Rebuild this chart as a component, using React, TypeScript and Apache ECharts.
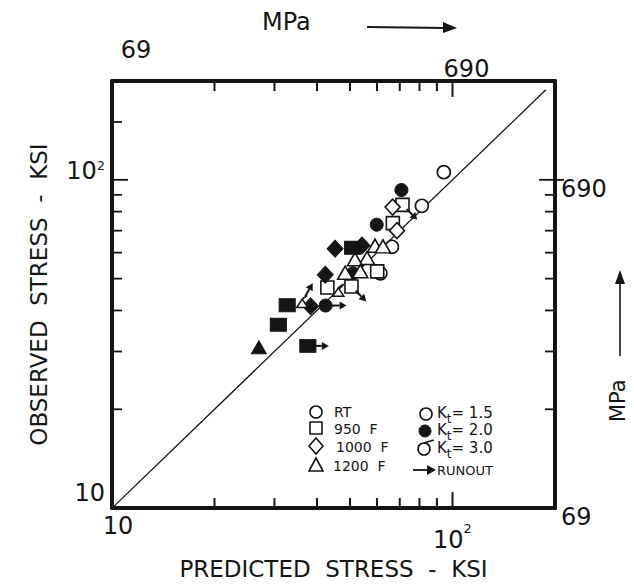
import React, { useEffect, useRef } from 'react';
import * as echarts from 'echarts';

// ---------- data ----------
const KSI_MIN = 10;
const KSI_MAX = 200;
const MPA_PER_KSI = 6.895;
const KSI_TICKS_X = [20, 30, 40, 50, 60, 70, 80, 90, 100];
const KSI_TICKS_Y = [20, 30, 40, 50, 60, 70, 80, 90, 100, 150];
const KSI_LABELS = [10, 100];
const MPA_LABELS = ['69', '690'];
const DIAGONAL = [[10, 10], [188, 188]];

// [predicted ksi, observed ksi]
const RT_KT15 = [[94.3, 105.5], [81.3, 83.3], [66.4, 62.5], [61.4, 51.9]];
const RT_KT20 = [[70.8, 93.1], [59.9, 73.0], [51.0, 51.9], [42.4, 41.4]];
const F950_KT15 = [[71.3, 83.9], [66.8, 73.8], [60.1, 52.6], [42.9, 47.0], [50.5, 47.3]];
const F950_KT20 = [[50.9, 62.1], [32.7, 41.5], [30.8, 36.2], [37.6, 31.2]];
const F1000_KT15 = [[66.7, 82.6], [68.7, 70.0]];
const F1000_KT20 = [[45.2, 61.7], [54.2, 63.1], [42.3, 51.4], [38.3, 41.2]];
const F1200_KT15 = [[59.2, 63.0], [62.5, 62.7], [56.1, 57.8], [51.7, 57.3], [48.4, 52.1], [53.6, 52.7]];
const F1200_KT20 = [[27.0, 30.9]];
const F1200_KT30 = [[36.2, 42.6], [46.2, 46.1]];
// [predicted, observed, arrow direction in degrees]
const RUNOUTS = [[42.4, 41.4, 0], [37.6, 31.2, 0], [71.3, 83.9, -45], [50.5, 47.3, -45], [36.2, 42.6, 60]];

const INK = '#151515';
const FONT = 'DejaVu Sans';

const openStyle = { color: '#ffffff', borderColor: INK, borderWidth: 1.6, opacity: 1 };
const fillStyle = { color: INK, borderColor: INK, borderWidth: 1, opacity: 1 };

function scatter(name: string, data: number[][], symbol: string, size: any, filled: boolean, z = 3) {
  return {
    name,
    type: 'scatter',
    xAxisIndex: 0,
    yAxisIndex: 0,
    data,
    symbol,
    symbolSize: size,
    itemStyle: filled ? fillStyle : openStyle,
    z,
  };
}

const tickLabelBase = { fontFamily: FONT, fontSize: 24, color: INK };

// left / right tick marks as thin rect symbols placed through the axis scale
function tickSeries(
  name: string,
  axisIdx: number,
  values: number[],
  side: 'left' | 'right',
  longValue: number,
  edge: number,
) {
  const WH = 1.8;
  const data = values.map((v) => {
    const isLong = Math.abs(v - longValue) / longValue < 1e-6;
    const len = isLong ? 16 : 10;
    if (side === 'left') return { value: [edge, v], symbolSize: [len, WH], symbolOffset: [len / 2, 0] };
    const full = isLong ? len + 9 : len;
    return { value: [edge, v], symbolSize: [full, WH], symbolOffset: [-len + full / 2, 0] };
  });
  return {
    name,
    type: 'scatter',
    xAxisIndex: axisIdx,
    yAxisIndex: axisIdx,
    data,
    symbol: 'rect',
    clip: false,
    silent: true,
    z: 6,
    itemStyle: { color: INK, opacity: 1 },
  };
}

export default function App() {
  const ref = useRef<HTMLDivElement>(null);
  useEffect(() => {
    if (!ref.current) return;
    const chart = echarts.init(ref.current, null, { renderer: 'svg' });
    const mpaMin = KSI_MIN * MPA_PER_KSI;
    const mpaMax = KSI_MAX * MPA_PER_KSI;
    const mpaTicks = KSI_TICKS_X.map((v) => v * MPA_PER_KSI);
    const mpaLabelVals = KSI_LABELS.map((v) => v * MPA_PER_KSI);
    const mpaText = (v: number) => MPA_LABELS[KSI_LABELS.indexOf(Math.round(v / MPA_PER_KSI))] || '';

    const axisLine = { show: true, lineStyle: { color: INK, width: 4 } };

    const legendGraphics: any[] = [
      // top MPa label with arrow
      { type: 'text', x: 262, y: 10, style: { text: 'MPa', font: `24px "${FONT}"`, fill: INK } },
      { type: 'line', shape: { x1: 367, y1: 27, x2: 446, y2: 28 }, style: { stroke: INK, lineWidth: 2 } },
      { type: 'polygon', shape: { points: [[443, 22], [457, 28], [443, 33]] }, style: { fill: INK } },
      // right MPa label with arrow
      {
        type: 'text',
        x: 607,
        y: 422,
        rotation: Math.PI / 2,
        style: { text: 'MPa', font: `21px "${FONT}"`, fill: INK },
      },
      { type: 'line', shape: { x1: 620, y1: 356, x2: 620, y2: 282 }, style: { stroke: INK, lineWidth: 1.6 } },
      { type: 'polygon', shape: { points: [[615, 284], [620, 270], [625, 284]] }, style: { fill: INK } },
      // legend column 1 (temperature)
      { type: 'circle', shape: { cx: 316, cy: 412, r: 6 }, style: { fill: '#fff', stroke: INK, lineWidth: 1.6 } },
      { type: 'rect', shape: { x: 310, y: 422, width: 12, height: 12 }, style: { fill: '#fff', stroke: INK, lineWidth: 1.6 } },
      { type: 'polygon', shape: { points: [[316, 438], [323, 446], [316, 454], [309, 446]] }, style: { fill: '#fff', stroke: INK, lineWidth: 1.6 } },
      { type: 'polygon', shape: { points: [[316, 458], [323, 471], [309, 471]] }, style: { fill: '#fff', stroke: INK, lineWidth: 1.6 } },
      { type: 'text', x: 334, y: 412, style: { text: 'RT', font: `14px "${FONT}"`, fill: INK, verticalAlign: 'middle' } },
      { type: 'text', x: 334, y: 429, style: { text: '950  F', font: `14px "${FONT}"`, fill: INK, verticalAlign: 'middle' } },
      { type: 'text', x: 336, y: 447, style: { text: '1000  F', font: `14px "${FONT}"`, fill: INK, verticalAlign: 'middle' } },
      { type: 'text', x: 333, y: 466, style: { text: '1200  F', font: `14px "${FONT}"`, fill: INK, verticalAlign: 'middle' } },
      // legend column 2 (Kt)
      { type: 'circle', shape: { cx: 426, cy: 414, r: 6 }, style: { fill: '#fff', stroke: INK, lineWidth: 1.6 } },
      { type: 'circle', shape: { cx: 425, cy: 431, r: 6 }, style: { fill: INK, stroke: INK, lineWidth: 1 } },
      { type: 'circle', shape: { cx: 424, cy: 449, r: 6 }, style: { fill: '#fff', stroke: INK, lineWidth: 1.6 } },
      { type: 'line', shape: { x1: 424, y1: 443, x2: 434, y2: 440 }, style: { stroke: INK, lineWidth: 1.6 } },
      ...[['1.5', 413], ['2.0', 430], ['3.0', 448]].map(([v, y]) => ({
        type: 'text',
        x: 437,
        y: y as number,
        style: {
          text: `K{t|t}= ${v}`,
          font: `15px "${FONT}"`,
          fill: INK,
          verticalAlign: 'middle',
          rich: { t: { fontFamily: FONT, fontSize: 12, fill: INK, padding: [12, 0, 0, 0] } },
        },
      })),
      { type: 'line', shape: { x1: 413, y1: 470, x2: 428, y2: 470 }, style: { stroke: INK, lineWidth: 1.8 } },
      { type: 'polygon', shape: { points: [[427, 465], [436, 470], [427, 475]] }, style: { fill: INK } },
      { type: 'text', x: 437, y: 470, style: { text: 'RUNOUT', font: `13px "${FONT}"`, fill: INK, verticalAlign: 'middle' } },
    ];

    const option: any = {
      animation: false,
      backgroundColor: '#ffffff',
      grid: { left: 112, right: 79, top: 81, bottom: 75 },
      xAxis: [
        {
          type: 'log',
          logBase: 10,
          min: KSI_MIN,
          max: KSI_MAX,
          position: 'bottom',
          name: 'PREDICTED  STRESS  -  KSI',
          nameLocation: 'middle',
          nameGap: 40,
          nameTextStyle: { fontFamily: FONT, fontSize: 23, color: INK },
          axisLine,
          axisTick: { show: false },
          splitLine: { show: false },
          axisLabel: {
            customValues: KSI_LABELS,
            margin: 6,
            formatter: (v: number) => (v < 50 ? '{a|10}' : '{b|10}{s|2}'),
            rich: {
              a: { ...tickLabelBase, padding: [0, 0, 0, 12] },
              b: { ...tickLabelBase, padding: [14, 0, 0, 0] },
              s: { fontFamily: FONT, fontSize: 13, color: INK, verticalAlign: 'top', padding: [8, 0, 0, 0] },
            },
          },
        },
        {
          type: 'log',
          logBase: 10,
          min: mpaMin,
          max: mpaMax,
          position: 'top',
          axisLine,
          axisTick: { show: false },
          splitLine: { show: false },
          axisLabel: {
            customValues: mpaLabelVals,
            margin: 0,
            formatter: (v: number) => (v < 300 ? '{a|' + mpaText(v) + '}' : '{b|' + mpaText(v) + '}'),
            rich: {
              a: { ...tickLabelBase, padding: [0, 0, 19, 48] },
              b: { ...tickLabelBase, padding: [0, 0, 0, 28] },
            },
          },
        },
      ],
      yAxis: [
        {
          type: 'log',
          logBase: 10,
          min: KSI_MIN,
          max: KSI_MAX,
          position: 'left',
          name: 'OBSERVED  STRESS  -  KSI',
          nameLocation: 'middle',
          nameGap: 62,
          nameTextStyle: { fontFamily: FONT, fontSize: 23, color: INK },
          axisLine,
          axisTick: { show: false },
          splitLine: { show: false },
          axisLabel: {
            customValues: KSI_LABELS,
            margin: 7,
            formatter: (v: number) => (v < 50 ? '{a|10}' : '{b|10}{s|2}'),
            rich: {
              a: { ...tickLabelBase, padding: [0, 0, 30, 0] },
              b: { ...tickLabelBase, padding: [0, 0, 18, 0] },
              s: { fontFamily: FONT, fontSize: 13, color: INK, verticalAlign: 'top', padding: [0, 0, 0, 0] },
            },
          },
        },
        {
          type: 'log',
          logBase: 10,
          min: mpaMin,
          max: mpaMax,
          position: 'right',
          axisLine,
          axisTick: { show: false },
          splitLine: { show: false },
          axisLabel: {
            customValues: mpaLabelVals,
            margin: 6,
            formatter: (v: number) => '{a|' + mpaText(v) + '}',
            rich: {
              a: { ...tickLabelBase, padding: [18, 0, 0, 0] },
            },
          },
        },
      ],
      series: [
        {
          name: 'diagonal',
          type: 'line',
          xAxisIndex: 0,
          yAxisIndex: 0,
          data: DIAGONAL,
          symbol: 'none',
          lineStyle: { color: INK, width: 1.3 },
          z: 2,
        },
        tickSeries('ticks-left', 0, KSI_TICKS_Y, 'left', 100, KSI_MIN),
        tickSeries('ticks-right', 1, mpaTicks, 'right', 100 * MPA_PER_KSI, mpaMax),
        scatter('RT Kt=1.5', RT_KT15, 'circle', 13, false),
        scatter('RT Kt=2.0', RT_KT20, 'circle', 13, true),
        scatter('950 F Kt=1.5', F950_KT15, 'rect', 13, false),
        scatter('950 F Kt=2.0', F950_KT20, 'rect', [16, 13], true),
        scatter('1000 F Kt=1.5', F1000_KT15, 'diamond', [15, 16], false),
        scatter('1000 F Kt=2.0', F1000_KT20, 'diamond', [16, 17], true),
        scatter('1200 F Kt=1.5', F1200_KT15, 'triangle', [15, 13], false),
        scatter('1200 F Kt=2.0', F1200_KT20, 'triangle', [15, 13], true),
        scatter('1200 F Kt=3.0', F1200_KT30, 'path://M0,20 L9,4 L18,20 Z M9,4 L17,-3', [11, 12], false, 4),
        {
          name: 'runout',
          type: 'custom',
          xAxisIndex: 0,
          yAxisIndex: 0,
          data: RUNOUTS,
          z: 5,
          renderItem: (params: any, api: any) => {
            const p = api.coord([api.value(0), api.value(1)]);
            const ang = (api.value(2) * Math.PI) / 180;
            const dx = Math.cos(ang);
            const dy = -Math.sin(ang);
            const s = 6;
            const l = 8;
            const x1 = p[0] + dx * s;
            const y1 = p[1] + dy * s;
            const x2 = p[0] + dx * (s + l);
            const y2 = p[1] + dy * (s + l);
            const hx = x2 + dx * 7;
            const hy = y2 + dy * 7;
            const nx = -dy;
            const ny = dx;
            return {
              type: 'group',
              children: [
                { type: 'line', shape: { x1, y1, x2, y2 }, style: { stroke: INK, lineWidth: 2 } },
                {
                  type: 'polygon',
                  shape: { points: [[hx, hy], [x2 + nx * 4, y2 + ny * 4], [x2 - nx * 4, y2 - ny * 4]] },
                  style: { fill: INK },
                },
              ],
            };
          },
        },
      ],
      graphic: legendGraphics,
    };
    chart.setOption(option);

    // bottom and top tick marks: positions taken from the axes' own scales
    const tickGraphics: any[] = [];
    KSI_TICKS_X.forEach((v) => {
      const len = v === 100 ? 16 : 10;
      const pb = chart.convertToPixel({ xAxisIndex: 0, yAxisIndex: 0 }, [v, KSI_MIN]) as number[];
      if (pb && isFinite(pb[0]) && isFinite(pb[1])) {
        tickGraphics.push({
          type: 'rect',
          z: 100,
          shape: { x: pb[0] - 1, y: pb[1] - len, width: 2, height: len },
          style: { fill: INK },
        });
      }
      const pt = chart.convertToPixel({ xAxisIndex: 1, yAxisIndex: 1 }, [v * MPA_PER_KSI, mpaMax]) as number[];
      if (pt && isFinite(pt[0]) && isFinite(pt[1])) {
        tickGraphics.push({
          type: 'rect',
          z: 100,
          shape: { x: pt[0] - 1, y: pt[1], width: 2, height: len },
          style: { fill: INK },
        });
      }
    });
    chart.setOption({ graphic: [...legendGraphics, ...tickGraphics] });

    return () => chart.dispose();
  }, []);
  return (
    <div
      ref={ref}
      style={{ position: 'fixed', left: 0, top: 0, width: 634, height: 585, background: '#fff' }}
    />
  );
}
